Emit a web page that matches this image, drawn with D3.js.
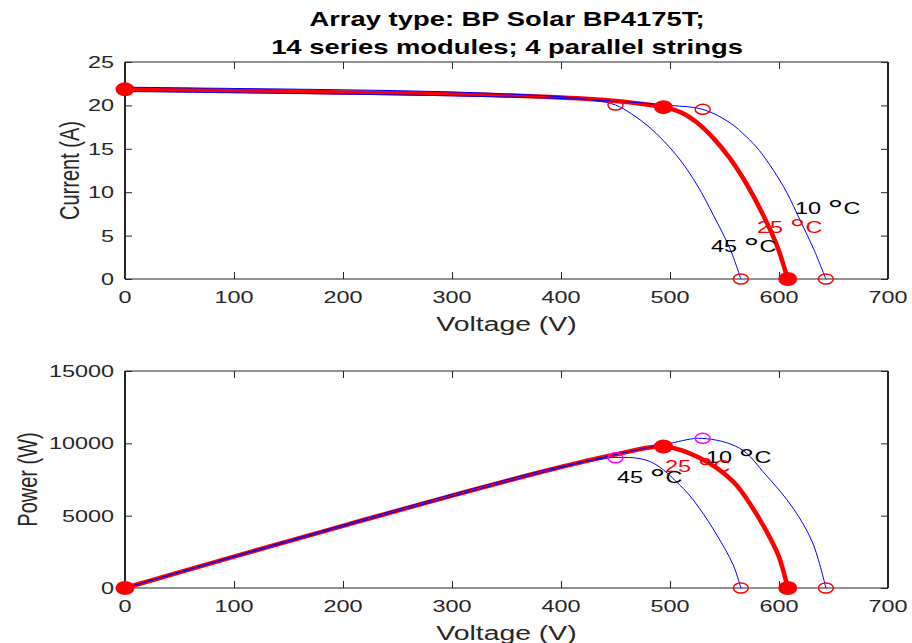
<!DOCTYPE html>
<html>
<head>
<meta charset="utf-8">
<script src="https://cdn.jsdelivr.net/npm/d3@7"></script>
<style>
  body { margin: 0; background: #fff; }
  svg { display: block; font-family: "Liberation Sans", Arial, sans-serif; }
</style>
</head>
<body>
<div id="chart"></div>
<script>
// --- data ---
const voltTicks = [0, 100, 200, 300, 400, 500, 600, 700];
const currentTicks = [0, 5, 10, 15, 20, 25];
const powerTicks = [0, 5000, 10000, 15000];

// I-V curves (volts, amps)
const iv45V = [0, 100, 200, 300, 400, 430, 450, 465, 480, 495, 510, 525, 540, 555, 565];
const iv45I = [22.1, 21.95, 21.8, 21.55, 21.0, 20.6, 20.05, 19.0, 17.6, 15.8, 13.6, 10.8, 7.3, 3.5, 0];
const iv25V = [0, 100, 200, 300, 400, 450, 494, 510, 525, 540, 555, 570, 585, 598, 608];
const iv25I = [21.85, 21.7, 21.5, 21.3, 20.9, 20.5, 19.8, 19.2, 18.0, 16.2, 13.9, 11.0, 7.5, 3.9, 0];
const iv10V = [0, 100, 200, 300, 400, 450, 500, 530, 555, 570, 582, 595, 607, 620, 632, 643];
const iv10I = [21.6, 21.45, 21.3, 21.1, 20.8, 20.5, 20.0, 19.55, 18.0, 16.4, 14.8, 12.5, 10.0, 6.6, 3.4, 0];

// P-V curves (volts, watts)
const pv45V = [0, 100, 200, 300, 400, 450, 482, 512, 527, 543, 558, 565];
const pv45P = [0, 2200, 4360, 6470, 8400, 9020, 8730, 6890, 5510, 3660, 1590, 0];
const pv25V = [0, 100, 200, 300, 400, 450, 494, 527, 558, 576, 592, 600, 608];
const pv25P = [0, 2170, 4300, 6390, 8360, 9225, 9780, 9000, 7350, 5510, 3430, 2150, 0];
const pv10V = [0, 100, 200, 300, 400, 450, 500, 529, 564, 588, 613, 631, 643];
const pv10P = [0, 2145, 4260, 6330, 8320, 9225, 10000, 10345, 9655, 7810, 5510, 3100, 0];

// marked points: short circuit, max power, open circuit
const iscV = 0, iscI = 21.85;
const mppV = { t10: 530, t25: 494, t45: 450 };
const mppI = { t10: 19.55, t25: 19.8, t45: 20.05 };
const mppP = { t10: 10345, t25: 9780, t45: 9000 };
const vocV = { t10: 643, t25: 608, t45: 565 };

const titleLines = ["Array type: BP Solar BP4175T;", "14 series modules; 4 parallel strings"];
const tempNums = { t10: "10", t25: "25", t45: "45" };

// --- layout ---
const W = 912, H = 643;
const SX = 1.42;          // the original figure is stretched sideways
const axisCol = "#262626";
const left = 125, right = 888;
const topPanel = { y0: 62, y1: 279 };
const botPanel = { y0: 371, y1: 588 };

const svg = d3.select("#chart").append("svg")
  .attr("width", W).attr("height", H);

const x = d3.scaleLinear().domain([0, 700]).range([left, right]);
const yI = d3.scaleLinear().domain([0, 25]).range([topPanel.y1, topPanel.y0]);
const yP = d3.scaleLinear().domain([0, 15000]).range([botPanel.y1, botPanel.y0]);

function stretched(g, px, py, str, opts = {}) {
  const sx = opts.sx || SX;
  const t = g.append("text")
    .attr("transform", `translate(${px},${py}) scale(${sx},1)` + (opts.rotate ? ` rotate(${opts.rotate})` : ""))
    .attr("text-anchor", opts.anchor || "start")
    .attr("font-size", opts.size || 16.5)
    .attr("font-weight", opts.weight || "normal")
    .attr("fill", opts.fill || axisCol)
    .text(str);
  return t;
}

// "NN °C" label with a large raised degree ring
function tempLabel(g, px, py, num, fill) {
  const t = stretched(g, px, py, num + " ", { size: 16.5, fill: fill });
  t.append("tspan").attr("font-size", 28).attr("dy", 5).text("°");
  t.append("tspan").attr("dy", -5).text("C");
}

function panel(y, yTicks, panelY, ylabel, ylabelX) {
  const g = svg.append("g");
  const fmt = d3.format("d");

  // inward ticks on all four sides
  g.append("g").attr("transform", `translate(0,${panelY.y1})`)
    .call(d3.axisBottom(x).tickValues(voltTicks).tickSizeInner(-7).tickSizeOuter(0).tickFormat(""));
  g.append("g").attr("transform", `translate(0,${panelY.y0})`)
    .call(d3.axisTop(x).tickValues(voltTicks).tickSizeInner(-7).tickSizeOuter(0).tickFormat(""));
  g.append("g").attr("transform", `translate(${left},0)`)
    .call(d3.axisLeft(y).tickValues(yTicks).tickSizeInner(-7).tickSizeOuter(0).tickFormat(""));
  g.append("g").attr("transform", `translate(${right},0)`)
    .call(d3.axisRight(y).tickValues(yTicks).tickSizeInner(-7).tickSizeOuter(0).tickFormat(""));
  g.selectAll(".domain").remove();
  g.selectAll(".tick line").attr("stroke", axisCol);

  // box
  g.append("line").attr("x1", left).attr("x2", right).attr("y1", panelY.y1).attr("y2", panelY.y1)
    .attr("stroke", axisCol).attr("stroke-width", 1.2);
  g.append("line").attr("x1", left).attr("x2", right).attr("y1", panelY.y0).attr("y2", panelY.y0)
    .attr("stroke", axisCol).attr("stroke-width", 1.2);
  g.append("line").attr("x1", left).attr("x2", left).attr("y1", panelY.y0).attr("y2", panelY.y1)
    .attr("stroke", axisCol).attr("stroke-width", 2);
  g.append("line").attr("x1", right).attr("x2", right).attr("y1", panelY.y0).attr("y2", panelY.y1)
    .attr("stroke", axisCol).attr("stroke-width", 2);

  // tick labels
  voltTicks.forEach(v => stretched(g, x(v), panelY.y1 + 24, fmt(v), { anchor: "middle" }));
  yTicks.forEach(v => stretched(g, left - 11, y(v) + 6, fmt(v), { anchor: "end" }));

  // axis titles
  stretched(g, x(350), panelY.y1 + 52, "Voltage (V)", { anchor: "middle", size: 20 });
  stretched(g, ylabelX, (panelY.y0 + panelY.y1) / 2, ylabel, { anchor: "middle", size: 20, rotate: -90 });
  return g;
}

const gTop = panel(yI, currentTicks, topPanel, "Current (A)", 79);
const gBot = panel(yP, powerTicks, botPanel, "Power (W)", 37);

// title
stretched(svg, 507, 26, titleLines[0], { anchor: "middle", size: 20, weight: "bold", fill: "#000", sx: 1.37 });
stretched(svg, 507, 54, titleLines[1], { anchor: "middle", size: 20, weight: "bold", fill: "#000", sx: 1.37 });

const zip = (a, b) => a.map((v, i) => [v, b[i]]);

function drawCurve(g, yScale, vs, ys, color, w) {
  const line = d3.line().x(d => x(d[0])).y(d => yScale(d[1])).curve(d3.curveCatmullRom.alpha(0.5));
  g.append("path").datum(zip(vs, ys))
    .attr("d", line).attr("fill", "none")
    .attr("stroke", color).attr("stroke-width", w)
    .attr("stroke-linejoin", "round").attr("stroke-linecap", "round");
}

function openMark(g, cx, cy, color) {
  g.append("ellipse").attr("cx", cx).attr("cy", cy).attr("rx", 7.5).attr("ry", 5)
    .attr("fill", "none").attr("stroke", color).attr("stroke-width", 1.5);
}
function boldMark(g, cx, cy) {
  g.append("ellipse").attr("cx", cx).attr("cy", cy).attr("rx", 7.5).attr("ry", 5)
    .attr("fill", "red").attr("stroke", "red").attr("stroke-width", 4);
}

// --- top panel: I-V ---
drawCurve(gTop, yI, iv25V, iv25I, "red", 4.5);
drawCurve(gTop, yI, iv45V, iv45I, "blue", 1);
drawCurve(gTop, yI, iv10V, iv10I, "blue", 1);
boldMark(gTop, x(iscV), yI(iscI));
openMark(gTop, x(mppV.t45), yI(mppI.t45), "red");
openMark(gTop, x(mppV.t10), yI(mppI.t10), "red");
boldMark(gTop, x(mppV.t25), yI(mppI.t25));
openMark(gTop, x(vocV.t45), yI(0), "red");
openMark(gTop, x(vocV.t10), yI(0), "red");
boldMark(gTop, x(vocV.t25), yI(0));

tempLabel(gTop, 795, 214, tempNums.t10, "#000");
tempLabel(gTop, 757, 233, tempNums.t25, "red");
tempLabel(gTop, 711, 252, tempNums.t45, "#000");

// --- bottom panel: P-V ---
drawCurve(gBot, yP, pv25V, pv25P, "red", 4.5);
drawCurve(gBot, yP, pv45V, pv45P, "blue", 1);
drawCurve(gBot, yP, pv10V, pv10P, "blue", 1);
boldMark(gBot, x(0), yP(0));
openMark(gBot, x(mppV.t45), yP(mppP.t45), "magenta");
openMark(gBot, x(mppV.t10), yP(mppP.t10), "magenta");
boldMark(gBot, x(mppV.t25), yP(mppP.t25));
openMark(gBot, x(vocV.t45), yP(0), "red");
openMark(gBot, x(vocV.t10), yP(0), "red");
boldMark(gBot, x(vocV.t25), yP(0));

tempLabel(gBot, 706, 463, tempNums.t10, "#000");
tempLabel(gBot, 665, 472, tempNums.t25, "red");
tempLabel(gBot, 617, 483, tempNums.t45, "#000");
</script>
</body>
</html>
